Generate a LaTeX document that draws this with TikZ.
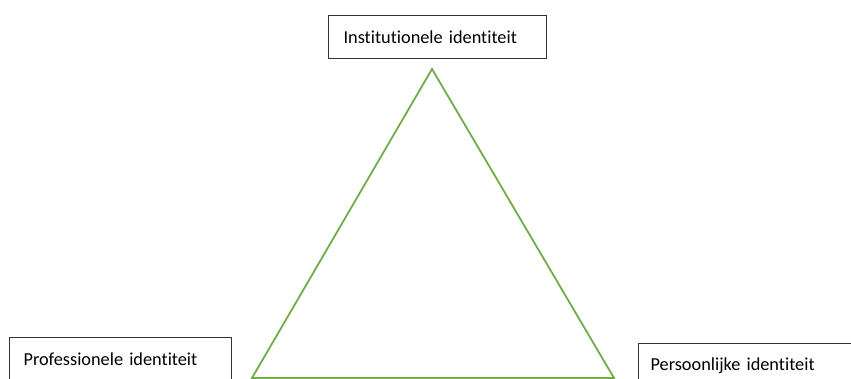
\documentclass[tikz,border=0pt]{standalone}
\usepackage{fontspec}
\setmainfont[Ligatures=CommonOff]{Carlito}
\definecolor{trigreen}{HTML}{70AD47}
\definecolor{boxline}{HTML}{333333}
\begin{document}
\begin{tikzpicture}[x=1pt,y=-1pt,
  box/.style={draw=boxline, line width=1.1pt, font=\fontsize{18.3}{20}\selectfont, inner ysep=0pt, anchor=north west, align=left},
  tri/.style={draw=trigreen, line width=1.8pt, line join=miter}]
\useasboundingbox (0,0) rectangle (851,379);
\node[box, minimum width=218pt, minimum height=43pt, inner xsep=15pt, text width=188pt] (inst) at (328,15) {Institutionele identiteit};
\node[box, inner xsep=14pt, text width=194pt, text height=28pt, text depth=40pt] (prof) at (9,337) {Professionele identiteit};
\node[box, inner xsep=12pt, text width=220pt, text height=27pt, text depth=40pt] (pers) at (638,343) {Persoonlijke identiteit};
\coordinate (top) at (432,69);
\coordinate (bl) at (252,378);
\coordinate (br) at (614,378);
\draw[tri] (top) -- (bl) -- (br) -- cycle;
\end{tikzpicture}
\end{document}
